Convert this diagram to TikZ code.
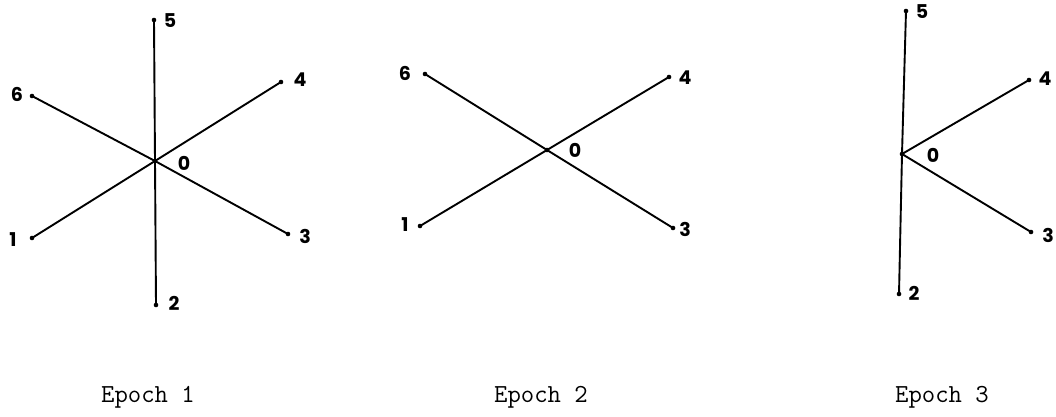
\documentclass[tikz,border=0pt]{standalone}
\usepackage{fontspec}
\newfontfamily\labfont{Poppins}
\begin{document}
\begin{tikzpicture}[x=1pt,y=-1pt,
  pt/.style={circle,fill=black,inner sep=0pt,minimum size=4.6pt},
  lab/.style={font=\labfont\bfseries\fontsize{19}{19}\selectfont,inner sep=0pt},
  captext/.style={font=\ttfamily\fontsize{26}{26}\selectfont,inner sep=0pt,anchor=base},
  edge/.style={line width=1.9pt}]
\useasboundingbox (0,0) rectangle (1056,417);
% Epoch 1
\node[pt] (a0) at (155,161) {};
\node[pt] (a5) at (154,20) {};
\node[pt] (a2) at (156,305) {};
\node[pt] (a6) at (32,96) {};
\node[pt] (a4) at (281,82) {};
\node[pt] (a1) at (32,238) {};
\node[pt] (a3) at (288,234) {};
\foreach \n in {1,...,6} \draw[edge] (a0.center) -- (a\n.center);
\node[lab] (la5) at (170,21) {5};
\node[lab] (la6) at (17,94) {6};
\node[lab] (la4) at (300,80) {4};
\node[lab] (la0) at (184,163) {0};
\node[lab] (la1) at (13,240) {1};
\node[lab] (la3) at (305,236) {3};
\node[lab] (la2) at (174,303) {2};
% Epoch 2
\node[pt] (b0) at (547,150) {};
\node[pt] (b6) at (425,74) {};
\node[pt] (b4) at (669,77) {};
\node[pt] (b1) at (420,226) {};
\node[pt] (b3) at (673,228) {};
\foreach \n in {1,3,4,6} \draw[edge] (b0.center) -- (b\n.center);
\node[lab] (lb6) at (405,73) {6};
\node[lab] (lb4) at (685,78) {4};
\node[lab] (lb0) at (575,150) {0};
\node[lab] (lb1) at (405,225) {1};
\node[lab] (lb3) at (685,229) {3};
% Epoch 3
\node[pt] (c0) at (902,154) {};
\node[pt] (c5) at (906,11) {};
\node[pt] (c4) at (1029,80) {};
\node[pt] (c3) at (1031,232) {};
\node[pt] (c2) at (899,294) {};
\foreach \n in {2,3,4,5} \draw[edge] (c0.center) -- (c\n.center);
\node[lab] (lc5) at (922,12) {5};
\node[lab] (lc4) at (1045,79) {4};
\node[lab] (lc0) at (933,155) {0};
\node[lab] (lc3) at (1048,235) {3};
\node[lab] (lc2) at (914,293) {2};
% captions
\node[captext] (e1) at (148,402) {Epoch 1};
\node[captext] (e2) at (541,402) {Epoch 2};
\node[captext] (e3) at (942,402) {Epoch 3};
\end{tikzpicture}
\end{document}
